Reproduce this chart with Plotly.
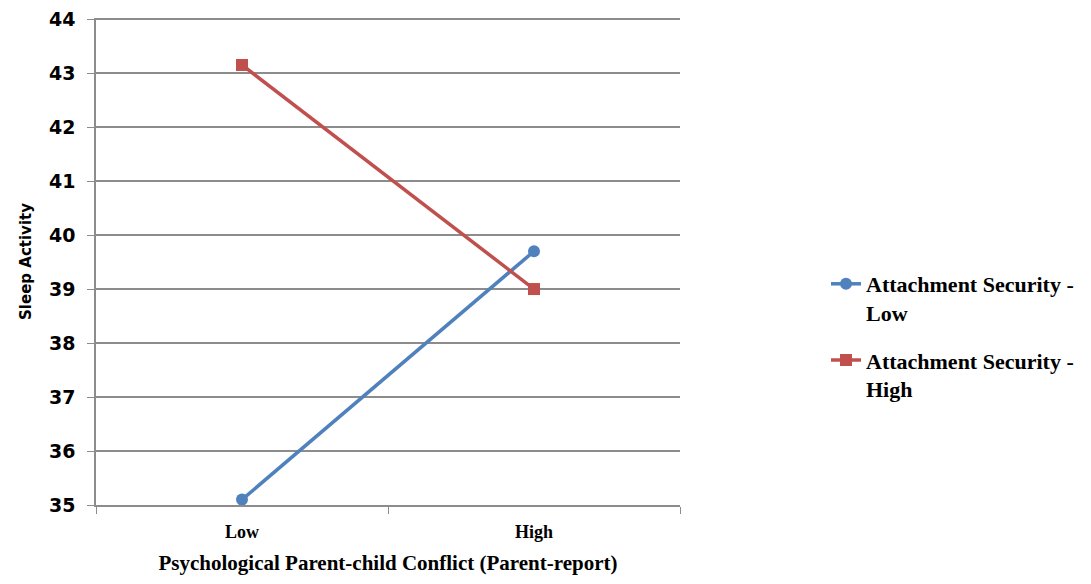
import plotly.graph_objects as go

# Data
conflict_levels = ["Low", "High"]
security_low = [35.1, 39.7]
security_high = [43.15, 39.0]
series_names = ["Attachment Security -<br>Low", "Attachment Security -<br>High"]

BLUE = "#4F81BD"
RED = "#C0504D"
GRID = "#8C8C8C"


def bold_lines(label):
    return "<br>".join("<b>" + part + "</b>" for part in label.split("<br>"))


fig = go.Figure()
fig.add_trace(go.Scatter(
    x=conflict_levels, y=security_low, name=bold_lines(series_names[0]),
    legendgroup="low",
    mode="lines+markers",
    line=dict(color=BLUE, width=3.5),
    marker=dict(symbol="circle", size=12, color=BLUE),
))
fig.add_trace(go.Scatter(
    x=conflict_levels, y=security_high, name=bold_lines(series_names[1]),
    legendgroup="high",
    mode="lines+markers",
    line=dict(color=RED, width=3.5),
    marker=dict(symbol="square", size=12, color=RED),
))

fig.update_layout(
    width=1091, height=584,
    margin=dict(l=96, r=411, t=18, b=79),
    plot_bgcolor="white", paper_bgcolor="white",
    showlegend=True,
    legend=dict(
        x=1.25, y=0.346, xanchor="left", yanchor="middle",
        font=dict(family="Liberation Serif", size=22, color="black"),
        tracegroupgap=16,
        itemwidth=30,
        valign="top",
    ),
    xaxis=dict(
        type="category",
        automargin=False,
        tickson="boundaries",
        ticks="outside", ticklen=7, tickcolor=GRID,
        showline=True, linecolor=GRID, linewidth=1.5,
        showgrid=False,
        tickfont=dict(family="Liberation Serif", size=18, color="black"),
        ticklabelstandoff=10,
        title=dict(text="<b>Psychological Parent-child Conflict (Parent-report)</b>",
                   font=dict(family="Liberation Serif", size=21, color="black"),
                   standoff=14),
        tickvals=conflict_levels,
        ticktext=["<b>Low</b>", "<b>High</b>"],
        range=[-0.5, 1.5],
    ),
    yaxis=dict(
        automargin=False,
        range=[35, 44.02], dtick=1, tick0=35,
        ticks="outside", ticklen=7, tickcolor=GRID,
        showline=True, linecolor=GRID, linewidth=1.5,
        showgrid=True, gridcolor=GRID, gridwidth=1.5,
        zeroline=False,
        tickfont=dict(family="DejaVu Sans", size=19, color="black", weight="bold"),
        ticklabelstandoff=8,
        title=dict(text="<b>Sleep Activity</b>",
                   font=dict(family="DejaVu Sans", size=15, color="black"),
                   standoff=14),
    ),
)

fig.write_html("out.html")
